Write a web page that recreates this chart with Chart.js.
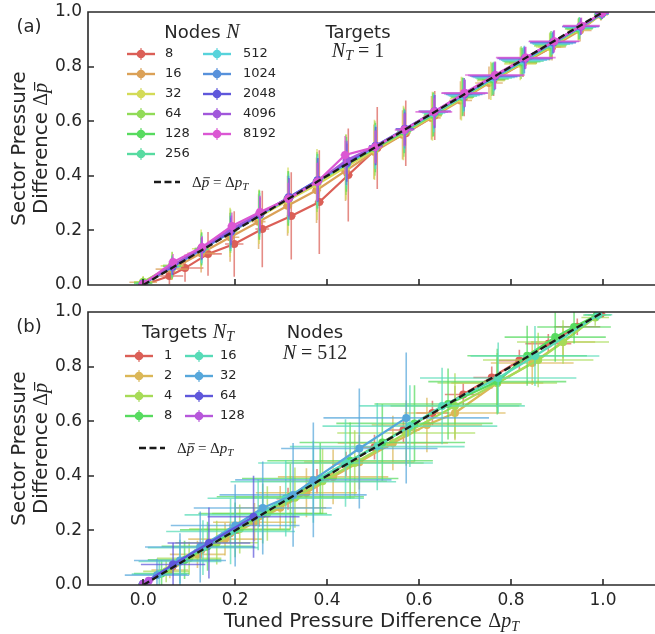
<!DOCTYPE html>
<html>
<head>
<meta charset="utf-8">
<script src="https://cdn.jsdelivr.net/npm/chart.js@4.4.0/dist/chart.umd.min.js"></script>
<style>
  body { margin: 0; background: #fff; overflow: hidden; }
  canvas { position: absolute; left: 0; }
  #panelA { top: 0; }
  #panelB { top: 300px; }
</style>
</head>
<body>
<canvas id="panelA" width="655" height="300"></canvas>
<canvas id="panelB" width="655" height="334"></canvas>
<script>
// ---- data ----
const nodeLabels = ['8', '16', '32', '64', '128', '256', '512', '1024', '2048', '4096', '8192'];
const targetLabels = ['1', '2', '4', '8', '16', '32', '64', '128'];
const xTicks = [0, 0.2, 0.4, 0.6, 0.8, 1.0];
const yTicks = [0, 0.2, 0.4, 0.6, 0.8, 1.0];
const idealX = [0, 1];
const idealY = [0, 1];

// panel (a): N_T = 1, one series per node count
const aX = [
  [0, .057, .091, .141, .198, .259, .322, .383, .446, .509, .571, .634, .698, .762, .826, .889, .995],
  [0, .062, .126, .189, .251, .314, .377, .440, .502, .564, .627, .690, .752, .826, .889, .950, .995],
  [0, .063, .126, .189, .252, .315, .378, .441, .503, .566, .629, .692, .756, .820, .884, .946, .996],
  [0, .063, .127, .190, .252, .315, .378, .441, .504, .567, .630, .694, .758, .822, .885, .947, .996],
  [0, .063, .127, .190, .253, .316, .379, .442, .505, .568, .631, .695, .760, .824, .887, .948, .996],
  [0, .063, .127, .190, .253, .316, .379, .442, .505, .568, .632, .696, .762, .826, .888, .949, .997],
  [0, .063, .127, .190, .253, .316, .379, .442, .505, .568, .632, .697, .763, .828, .890, .950, .997],
  [0, .063, .127, .190, .253, .316, .379, .442, .505, .569, .633, .698, .764, .829, .891, .951, .997],
  [0, .064, .127, .191, .254, .317, .380, .443, .506, .569, .634, .699, .765, .830, .892, .952, .998],
  [0, .064, .128, .192, .254, .317, .380, .443, .506, .570, .634, .700, .766, .831, .893, .952, .998],
  [0, .065, .128, .193, .254, .315, .378, .439, .504, .567, .632, .698, .765, .832, .894, .953, .998]
];
const aY = [
  [0, .033, .062, .114, .150, .205, .253, .304, .403, .502, .556, .621, .688, .752, .813, .872, .990],
  [.010, .058, .116, .175, .232, .290, .347, .418, .488, .550, .612, .676, .740, .812, .872, .932, .990],
  [.012, .070, .133, .193, .250, .310, .368, .432, .495, .557, .618, .683, .748, .810, .872, .935, .990],
  [.010, .072, .134, .197, .256, .318, .377, .440, .500, .560, .622, .688, .752, .815, .876, .938, .992],
  [.006, .068, .131, .195, .256, .317, .380, .442, .503, .563, .626, .690, .755, .818, .880, .940, .992],
  [.005, .067, .130, .194, .257, .318, .381, .443, .505, .565, .628, .692, .758, .820, .882, .942, .993],
  [.004, .066, .130, .193, .256, .318, .382, .444, .506, .567, .630, .694, .760, .823, .884, .944, .993],
  [.004, .067, .131, .194, .257, .320, .383, .446, .508, .570, .633, .698, .763, .826, .887, .946, .994],
  [.004, .068, .133, .196, .259, .322, .385, .448, .510, .572, .636, .701, .766, .830, .890, .948, .995],
  [.005, .072, .136, .205, .262, .318, .380, .458, .508, .570, .636, .703, .768, .832, .892, .948, .996],
  [.004, .084, .139, .216, .267, .315, .377, .476, .505, .568, .634, .703, .769, .833, .893, .950, .997]
];
const aXErr = [
  [.01, .03, .04, .03, .02, .015, .01, .01, .01, .01, .01, .015, .02, .025, .03, .02, .01],
  [.03, .035, .03, .02, .015, .01, .01, .01, .01, .015, .02, .025, .03, .03, .03, .025, .015],
  [.02, .025, .02, .015, .01, .01, .01, .01, .01, .015, .02, .025, .03, .035, .03, .025, .015],
  [.02, .02, .015, .015, .01, .01, .01, .01, .01, .015, .02, .025, .03, .035, .035, .03, .015],
  [.02, .02, .015, .01, .01, .01, .01, .01, .01, .015, .02, .025, .035, .04, .035, .03, .015],
  [.015, .015, .015, .01, .01, .01, .01, .01, .01, .015, .02, .03, .04, .045, .04, .03, .015],
  [.01, .015, .01, .01, .01, .01, .01, .01, .01, .015, .025, .035, .045, .05, .045, .035, .015],
  [.01, .01, .01, .01, .01, .01, .01, .01, .01, .02, .03, .04, .05, .055, .05, .04, .015],
  [.01, .01, .01, .01, .01, .01, .01, .01, .015, .02, .035, .045, .055, .06, .05, .04, .015],
  [.01, .01, .01, .01, .01, .01, .01, .01, .015, .02, .035, .05, .06, .06, .055, .04, .015],
  [.01, .01, .01, .01, .01, .01, .01, .01, .015, .02, .04, .05, .065, .065, .055, .04, .015]
];
const aYErr = [
  [.01, .03, .05, .08, .12, .14, .16, .19, .17, .15, .12, .09, .07, .06, .05, .04, .02],
  [.02, .04, .07, .09, .10, .11, .12, .11, .10, .09, .08, .07, .06, .05, .05, .04, .02],
  [.02, .05, .07, .09, .10, .12, .13, .12, .11, .10, .09, .08, .07, .06, .05, .04, .02],
  [.02, .05, .06, .08, .09, .10, .11, .11, .10, .09, .08, .07, .06, .06, .05, .04, .02],
  [.02, .04, .06, .07, .09, .10, .10, .10, .09, .08, .08, .07, .06, .05, .05, .04, .02],
  [.015, .04, .05, .07, .08, .09, .10, .09, .08, .08, .07, .06, .06, .05, .04, .04, .02],
  [.01, .03, .05, .06, .07, .08, .09, .08, .08, .07, .07, .06, .05, .05, .04, .03, .02],
  [.01, .03, .04, .06, .07, .08, .08, .08, .07, .07, .06, .06, .05, .05, .04, .03, .02],
  [.01, .03, .04, .05, .06, .07, .08, .07, .07, .06, .06, .05, .05, .04, .04, .03, .02],
  [.01, .03, .04, .05, .06, .07, .07, .07, .06, .06, .06, .05, .05, .04, .04, .03, .02],
  [.01, .03, .04, .05, .06, .06, .07, .07, .06, .06, .05, .05, .05, .04, .04, .03, .02]
];

// panel (b): N = 512, one series per target count
const bX = [
  [0, .063, .126, .189, .252, .315, .378, .441, .503, .566, .629, .696, .758, .818, .881, .944, .995],
  [0, .058, .118, .178, .242, .298, .355, .413, .470, .543, .617, .678, .770, .846, .913, .987],
  [0, .050, .100, .160, .210, .270, .330, .390, .460, .572, .678, .770, .859, .913, .983],
  [0, .040, .090, .140, .200, .260, .320, .385, .450, .520, .590, .663, .770, .835, .896, .937, .987],
  [0, .035, .080, .130, .190, .250, .310, .370, .440, .509, .580, .650, .772, .852, .990],
  [0, .030, .080, .124, .200, .260, .326, .370, .470, .572],
  [0, .065, .143, .240],
  [0, .012]
];
const bY = [
  [.004, .066, .128, .190, .253, .316, .380, .443, .505, .568, .630, .698, .760, .822, .884, .946, .993],
  [.002, .055, .112, .168, .230, .283, .338, .396, .450, .520, .586, .630, .740, .813, .890, .989],
  [.002, .050, .098, .155, .205, .262, .320, .380, .447, .557, .656, .740, .824, .890, .980],
  [.003, .042, .092, .142, .202, .262, .323, .390, .455, .522, .592, .663, .745, .840, .908, .945, .989],
  [.003, .040, .086, .137, .196, .257, .318, .378, .447, .507, .582, .656, .758, .839, .990],
  [.004, .036, .090, .139, .218, .282, .330, .385, .500, .612],
  [.005, .075, .154, .250],
  [.004, .016]
];
const bXErr = [
  [.005, .01, .015, .02, .02, .025, .025, .03, .03, .035, .035, .04, .04, .045, .05, .05, .01],
  [.01, .04, .06, .08, .09, .10, .11, .12, .12, .12, .12, .11, .10, .09, .07, .02],
  [.01, .05, .07, .09, .11, .12, .13, .14, .15, .15, .14, .13, .12, .10, .03],
  [.01, .06, .08, .10, .12, .14, .16, .17, .18, .18, .17, .16, .15, .13, .11, .08, .03],
  [.01, .06, .09, .12, .14, .16, .17, .18, .19, .19, .19, .18, .17, .14, .03],
  [.01, .07, .10, .12, .14, .15, .16, .17, .17, .18],
  [.01, .07, .09, .10],
  [.005, .01]
];
const bYErr = [
  [.005, .02, .03, .035, .04, .04, .045, .045, .045, .045, .045, .04, .04, .04, .035, .03, .01],
  [.01, .03, .05, .06, .07, .08, .09, .10, .10, .10, .10, .10, .09, .08, .06, .02],
  [.01, .04, .06, .08, .09, .10, .11, .12, .12, .12, .12, .11, .10, .08, .03],
  [.01, .05, .07, .09, .10, .11, .12, .13, .14, .14, .14, .13, .12, .11, .09, .06, .02],
  [.01, .05, .08, .10, .12, .13, .14, .15, .16, .16, .15, .14, .13, .11, .02],
  [.01, .06, .10, .13, .15, .17, .19, .21, .22, .24],
  [.01, .08, .13, .15],
  [.005, .01]
];

// ---- styles ----
const TXT = '#262626';
const SANS = '"DejaVu Sans"';
const SERIF = '"Liberation Serif"';
const colorsA = [[219,95,87],[219,161,87],[211,219,87],[145,219,87],[87,219,95],[87,219,161],
                 [87,211,219],[87,145,219],[95,87,219],[161,87,219],[219,87,211]];
const colorsB = [[219,95,87],[219,183,87],[167,219,87],[87,219,95],[87,219,183],[87,167,219],
                 [95,87,219],[183,87,219]];

function rgb(c) { return 'rgb(' + c.join(',') + ')'; }
function rgba(c, a) { return 'rgba(' + c.join(',') + ',' + a + ')'; }

function buildSets(labels, xs, ys, xe, ye, colors) {
  const sets = labels.map(function(lab, i) {
    return {
      label: lab,
      data: xs[i].map(function(x, j) { return { x: x, y: ys[i][j] }; }),
      xerr: xe[i], yerr: ye[i],
      borderColor: rgb(colors[i]), backgroundColor: rgb(colors[i]),
      pointBackgroundColor: rgb(colors[i]),
      errColor: rgba(colors[i], 0.72),
      borderWidth: 2.2, pointRadius: 4, pointBorderWidth: 0, pointHoverRadius: 4,
      tension: 0, order: -i, clip: 0
    };
  });
  sets.push({
    label: 'ideal',
    data: idealX.map(function(x, j) { return { x: x, y: idealY[j] }; }),
    borderColor: '#1a1a1a', borderWidth: 2.3, borderDash: [7, 3.5],
    pointRadius: 0, order: -100, clip: 0
  });
  return sets;
}

// error bars drawn just before each series line
const errorBars = {
  id: 'errorBars',
  beforeDatasetDraw(chart, args) {
    const ds = chart.data.datasets[args.index];
    if (!ds.xerr) return;
    const xs = chart.scales.x, ys = chart.scales.y, ca = chart.chartArea;
    const ctx = chart.ctx;
    ctx.save();
    ctx.beginPath();
    ctx.rect(ca.left, ca.top, ca.right - ca.left, ca.bottom - ca.top);
    ctx.clip();
    ctx.strokeStyle = ds.errColor;
    ctx.lineWidth = 1.6;
    ds.data.forEach(function(p, i) {
      const px = xs.getPixelForValue(p.x), py = ys.getPixelForValue(p.y);
      ctx.beginPath();
      ctx.moveTo(xs.getPixelForValue(p.x - ds.xerr[i]), py);
      ctx.lineTo(xs.getPixelForValue(p.x + ds.xerr[i]), py);
      ctx.moveTo(px, ys.getPixelForValue(p.y - ds.yerr[i]));
      ctx.lineTo(px, ys.getPixelForValue(p.y + ds.yerr[i]));
      ctx.stroke();
    });
    ctx.restore();
  }
};

// spines and inward ticks
const spines = {
  id: 'spines',
  afterDatasetsDraw(chart) {
    const ctx = chart.ctx, ca = chart.chartArea;
    const xs = chart.scales.x, ys = chart.scales.y;
    ctx.save();
    ctx.strokeStyle = '#2a2a2a';
    ctx.lineWidth = 1.6;
    ctx.beginPath();
    ctx.moveTo(ca.right + 2, ca.top); ctx.lineTo(ca.left, ca.top);
    ctx.lineTo(ca.left, ca.bottom); ctx.lineTo(ca.right + 2, ca.bottom);
    xTicks.forEach(function(v) {
      const px = Math.round(xs.getPixelForValue(v));
      ctx.moveTo(px, ca.bottom); ctx.lineTo(px, ca.bottom - 6);
    });
    yTicks.forEach(function(v) {
      const py = Math.round(ys.getPixelForValue(v));
      ctx.moveTo(ca.left, py); ctx.lineTo(ca.left + 6, py);
    });
    ctx.stroke();
    ctx.restore();
  }
};

// mixed-font text: runs of [text, font, dy, bar]
function rich(ctx, runs, x, y, align) {
  let w = 0;
  runs.forEach(function(r) { ctx.font = r[1]; w += ctx.measureText(r[0]).width; });
  let cx = align === 'left' ? x : x - w / 2;
  ctx.textAlign = 'left';
  ctx.textBaseline = 'alphabetic';
  runs.forEach(function(r) {
    ctx.font = r[1];
    const rw = ctx.measureText(r[0]).width;
    ctx.fillText(r[0], cx, y + (r[2] || 0));
    if (r[3]) {
      const size = parseFloat(r[1].match(/([\d.]+)px/)[1]);
      ctx.save();
      ctx.strokeStyle = ctx.fillStyle;
      ctx.lineWidth = size * 0.06;
      ctx.beginPath();
      ctx.moveTo(cx + size * 0.12, y - size * 0.62);
      ctx.lineTo(cx + rw + size * 0.05, y - size * 0.62);
      ctx.stroke();
      ctx.restore();
    }
    cx += rw;
  });
}

function legendEntry(ctx, ds, x0, tx, y) {
  ctx.strokeStyle = ds.borderColor;
  ctx.lineWidth = 2.4;
  ctx.beginPath(); ctx.moveTo(x0, y); ctx.lineTo(x0 + 28, y); ctx.stroke();
  ctx.strokeStyle = ds.errColor;
  ctx.lineWidth = 1.5;
  ctx.beginPath(); ctx.moveTo(x0 + 14, y - 6); ctx.lineTo(x0 + 14, y + 6); ctx.stroke();
  ctx.fillStyle = ds.borderColor;
  ctx.beginPath(); ctx.arc(x0 + 14, y, 4.3, 0, 2 * Math.PI); ctx.fill();
  ctx.fillStyle = TXT;
  ctx.font = '13px ' + SANS;
  ctx.textAlign = 'left';
  ctx.textBaseline = 'middle';
  ctx.fillText(ds.label, tx, y);
}

function dashEntry(ctx, x0, y, tx) {
  ctx.save();
  ctx.strokeStyle = '#1a1a1a';
  ctx.lineWidth = 2.3;
  ctx.setLineDash([7, 3.5]);
  ctx.beginPath(); ctx.moveTo(x0, y); ctx.lineTo(x0 + 26, y); ctx.stroke();
  ctx.restore();
  ctx.fillStyle = TXT;
  const f = '15px ' + SERIF, fi = 'italic 15px ' + SERIF;
  rich(ctx, [['\u0394', f], ['p', fi, 0, true], [' = \u0394', f], ['p', fi], ['T', 'italic 11px ' + SERIF, 3]], tx, y + 5, 'left');
}

function yTitle(ctx, chart) {
  const ca = chart.chartArea;
  const cy = (ca.top + ca.bottom) / 2;
  ctx.fillStyle = TXT;
  ctx.save(); ctx.translate(25, cy); ctx.rotate(-Math.PI / 2);
  rich(ctx, [['Sector Pressure', '19.8px ' + SANS]], 0, 0);
  ctx.restore();
  ctx.save(); ctx.translate(47, cy); ctx.rotate(-Math.PI / 2);
  rich(ctx, [['Difference ', '19.8px ' + SANS], ['\u0394', '20px ' + SERIF], ['p', 'italic 20px ' + SERIF, 0, true]], 0, 0);
  ctx.restore();
}

function drawPanelA(chart, ctx) {
  const sets = chart.data.datasets;
  ctx.fillStyle = TXT;
  rich(ctx, [['(a)', '18px ' + SANS]], 29, 32);
  rich(ctx, [['Nodes ', '18px ' + SANS], ['N', 'italic 20px ' + SERIF]], 202, 38);
  rich(ctx, [['Targets', '18px ' + SANS]], 358, 38);
  rich(ctx, [['N', 'italic 20px ' + SERIF], ['T', 'italic 14px ' + SERIF, 3], [' = 1', '20px ' + SERIF]], 358, 57);
  for (let i = 0; i < nodeLabels.length; i++) {
    const col = i < 6 ? 0 : 1, row = i < 6 ? i : i - 6;
    legendEntry(ctx, sets[i], col ? 203 : 127, col ? 243 : 165, 54 + row * 20);
  }
  dashEntry(ctx, 154, 182, 192);
  yTitle(ctx, chart);
}

function drawPanelB(chart, ctx) {
  const sets = chart.data.datasets;
  const ca = chart.chartArea;
  ctx.fillStyle = TXT;
  rich(ctx, [['(b)', '18px ' + SANS]], 29, 32);
  rich(ctx, [['Targets ', '18px ' + SANS], ['N', 'italic 20px ' + SERIF], ['T', 'italic 14px ' + SERIF, 3]], 188, 38);
  rich(ctx, [['Nodes', '18px ' + SANS]], 315, 38);
  rich(ctx, [['N', 'italic 20px ' + SERIF], [' = 512', '20px ' + SERIF]], 315, 59);
  for (let i = 0; i < targetLabels.length; i++) {
    const col = i < 4 ? 0 : 1, row = i % 4;
    legendEntry(ctx, sets[i], col ? 185 : 125, col ? 220 : 164, 56 + row * 20);
  }
  dashEntry(ctx, 139, 148, 177);
  yTitle(ctx, chart);
  ctx.fillStyle = TXT;
  rich(ctx, [['Tuned Pressure Difference ', '19.8px ' + SANS], ['\u0394', '20px ' + SERIF],
             ['p', 'italic 20px ' + SERIF], ['T', 'italic 14px ' + SERIF, 4]], (ca.left + ca.right) / 2, 327);
}

function overlay(fn) {
  return { id: 'overlay', afterDraw(chart) { chart.ctx.save(); fn(chart, chart.ctx); chart.ctx.restore(); } };
}

function makeChart(id, datasets, showX, xHeight, drawFn) {
  return new Chart(document.getElementById(id), {
    type: 'line',
    data: { datasets: datasets },
    options: {
      animation: false, responsive: false, devicePixelRatio: 1, events: [],
      layout: { autoPadding: false, padding: { top: 12, left: 0, right: 0, bottom: 0 } },
      plugins: { legend: { display: false }, tooltip: { enabled: false } },
      scales: {
        x: {
          type: 'linear', min: -0.12, max: 1.113,
          grid: { display: false, drawTicks: false }, border: { display: false },
          afterBuildTicks: function(s) { s.ticks = xTicks.map(function(v) { return { value: v }; }); },
          ticks: { display: showX, padding: 5, color: TXT, font: { family: 'DejaVu Sans', size: 17 },
                   callback: function(v) { return v.toFixed(1); } },
          afterFit: function(s) { s.height = xHeight; }
        },
        y: {
          type: 'linear', min: 0, max: 1,
          grid: { display: false, drawTicks: false }, border: { display: false },
          afterBuildTicks: function(s) { s.ticks = yTicks.map(function(v) { return { value: v }; }); },
          ticks: { padding: 6, color: TXT, font: { family: 'DejaVu Sans', size: 17, lineHeight: 0.5 },
                   callback: function(v) { return v.toFixed(1); } },
          afterFit: function(s) { s.width = 88; }
        }
      }
    },
    plugins: [errorBars, spines, overlay(drawFn)]
  });
}

makeChart('panelA', buildSets(nodeLabels, aX, aY, aXErr, aYErr, colorsA), false, 15, drawPanelA);
makeChart('panelB', buildSets(targetLabels, bX, bY, bXErr, bYErr, colorsB), true, 49, drawPanelB);
</script>
</body>
</html>
